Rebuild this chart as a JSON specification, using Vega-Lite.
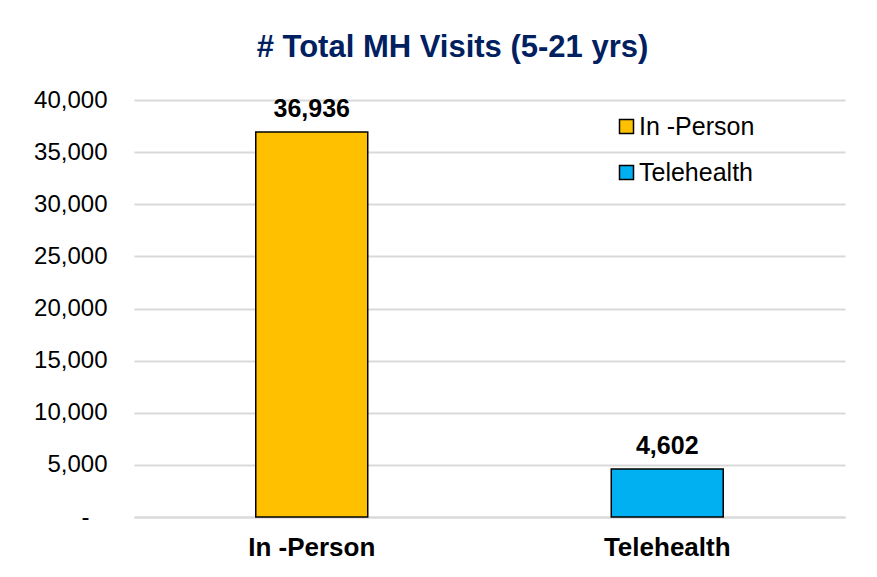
{
  "$schema": "https://vega.github.io/schema/vega-lite/v6.json",
  "autosize": {"type": "none"},
  "width": 711,
  "height": 417,
  "padding": {"left": 134, "top": 100, "right": 32, "bottom": 60},
  "background": "white",
  "title": {
    "text": "# Total MH Visits (5-21 yrs)",
    "font": "Liberation Sans",
    "fontSize": 31,
    "fontWeight": "bold",
    "color": "#002060",
    "anchor": "middle",
    "dx": -37,
    "offset": 24
  },
  "data": {
    "values": [
      {"type": "In -Person", "visits": 36936},
      {"type": "Telehealth", "visits": 4602}
    ]
  },
  "config": {
    "view": {"stroke": null},
    "font": "Liberation Sans"
  },
  "encoding": {
    "x": {
      "field": "type",
      "type": "nominal",
      "sort": null,
      "scale": {"paddingInner": 0.685, "paddingOuter": 0.3425},
      "axis": {
        "title": null,
        "labelAngle": 0,
        "labelFont": "Liberation Sans",
        "labelFontSize": 26,
        "labelFontWeight": "bold",
        "labelColor": "#000000",
        "labelPadding": 17,
        "ticks": false,
        "domainColor": "#D9D9D9",
        "domainWidth": 2
      }
    },
    "y": {
      "field": "visits",
      "type": "quantitative",
      "scale": {"domain": [0, 40000], "nice": false},
      "axis": {
        "title": null,
        "values": [0, 5000, 10000, 15000, 20000, 25000, 30000, 35000, 40000],
        "labelExpr": "datum.value == 0 ? '-\u2800' : format(datum.value, ',')",
        "labelFont": "Liberation Sans",
        "labelFontSize": 24,
        "labelColor": "#000000",
        "labelPadding": 27,
        "ticks": false,
        "domain": false,
        "gridColor": "#D9D9D9",
        "gridWidth": 2
      }
    }
  },
  "layer": [
    {
      "mark": {"type": "bar", "stroke": "#000000", "strokeWidth": 1.5},
      "encoding": {
        "color": {
          "field": "type",
          "type": "nominal",
          "sort": null,
          "scale": {"domain": ["In -Person", "Telehealth"], "range": ["#FFC000", "#00B0F0"]},
          "legend": {
            "title": null,
            "orient": "none",
            "legendX": 480,
            "legendY": 14,
            "padding": 0,
            "rowPadding": 20,
            "symbolType": "square",
            "symbolSize": 196,
            "symbolStrokeColor": "#000000",
            "symbolStrokeWidth": 1.5,
            "symbolOpacity": 1,
            "labelFont": "Liberation Sans",
            "labelFontSize": 25,
            "labelColor": "#000000",
            "labelOffset": 0
          }
        }
      }
    },
    {
      "mark": {
        "type": "text",
        "baseline": "alphabetic",
        "dy": -15,
        "font": "Liberation Sans",
        "fontSize": 25,
        "fontWeight": "bold",
        "color": "#000000"
      },
      "encoding": {
        "text": {"field": "visits", "type": "quantitative", "format": ","}
      }
    }
  ]
}
